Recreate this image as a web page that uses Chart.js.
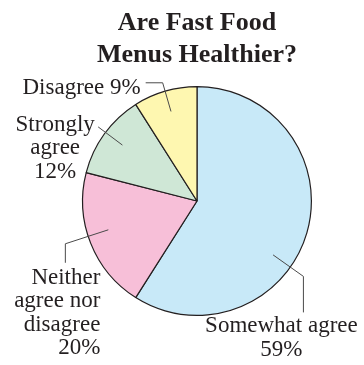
<!DOCTYPE html>
<html><head><meta charset="utf-8">
<script src="https://cdn.jsdelivr.net/npm/chart.js@4"></script>
<style>html,body{margin:0;padding:0;background:#fff}</style>
</head><body><canvas id="c" width="364" height="365"></canvas>
<script>
// ---- data ----
const titleLines = ['Are Fast Food', 'Menus Healthier?'];
const categories = ['Somewhat agree', 'Neither agree nor disagree', 'Strongly agree', 'Disagree'];
const percents = [59, 20, 12, 9];
const labelWords = [['Somewhat agree'], ['Neither', 'agree nor', 'disagree'], ['Strongly', 'agree'], ['Disagree']];
const sliceColors = ['#c8e9f8', '#f7bfd8', '#cfe7d6', '#fef7b0'];

// ---- callout layout (styles/positions, not data) ----
const calloutLayout = [
  {t: 0.59, r0: 0.815, r1: 1.14, leg: [0, 36], align: 'center', tx: -22, ty: 56, inline: false},
  {t: 0.55, r0: 0.815, r1: 1.21, leg: [0, 19], align: 'right', tx: 35, ty: 40, inline: false},
  {t: 0.52, r0: 0.815, r1: 1.08, leg: null, align: 'center', tx: -43, ty: 4, inline: false},
  {t: 0.50, r0: 0.815, r1: 1.076, leg: [-17, 0], align: 'right', tx: -22, ty: 11, inline: true}
];
const labelFont = '23px "Liberation Serif", "Times New Roman", serif';
const lineGap = 23.4;
const textColor = '#231f20';

const callouts = {
  id: 'callouts',
  afterDatasetsDraw(chart) {
    const ctx = chart.ctx;
    const meta = chart.getDatasetMeta(0);
    ctx.save();
    meta.data.forEach((el, i) => {
      const p = el.getProps(['x', 'y', 'startAngle', 'endAngle', 'outerRadius'], true);
      const L = calloutLayout[i];
      const a = p.startAngle + (p.endAngle - p.startAngle) * L.t;
      const R = p.outerRadius;
      const ax = p.x + Math.cos(a) * R * L.r0, ay = p.y + Math.sin(a) * R * L.r0;
      const ex = p.x + Math.cos(a) * R * L.r1, ey = p.y + Math.sin(a) * R * L.r1;
      ctx.strokeStyle = '#4a4a4a';
      ctx.lineWidth = 1;
      ctx.beginPath();
      ctx.moveTo(ax, ay);
      ctx.lineTo(ex, ey);
      if (L.leg) ctx.lineTo(ex + L.leg[0], ey + L.leg[1]);
      ctx.stroke();
      const pct = percents[i] + '%';
      const lines = L.inline ? [labelWords[i].join(' ') + ' ' + pct] : labelWords[i].concat([pct]);
      ctx.font = labelFont;
      ctx.fillStyle = textColor;
      ctx.textAlign = L.align;
      ctx.textBaseline = 'alphabetic';
      lines.forEach((s, k) => ctx.fillText(s, ex + L.tx, ey + L.ty + k * lineGap));
    });
    ctx.restore();
  }
};

new Chart(document.getElementById('c'), {
  type: 'pie',
  data: {
    labels: categories,
    datasets: [{
      data: percents,
      backgroundColor: sliceColors,
      borderColor: '#231f20',
      borderWidth: 1.2,
      hoverOffset: 0
    }]
  },
  options: {
    responsive: false,
    devicePixelRatio: 1,
    animation: false,
    events: [],
    layout: {padding: {left: 82, right: 52, top: 0, bottom: 49}},
    plugins: {
      legend: {display: false},
      tooltip: {enabled: false},
      title: {
        display: true,
        text: titleLines,
        color: textColor,
        font: {family: '"Liberation Serif", "Times New Roman", serif', size: 26, weight: 'bold', lineHeight: 1.2},
        padding: {top: 8, bottom: 15.6}
      }
    }
  },
  plugins: [callouts]
});
</script>
</body></html>
